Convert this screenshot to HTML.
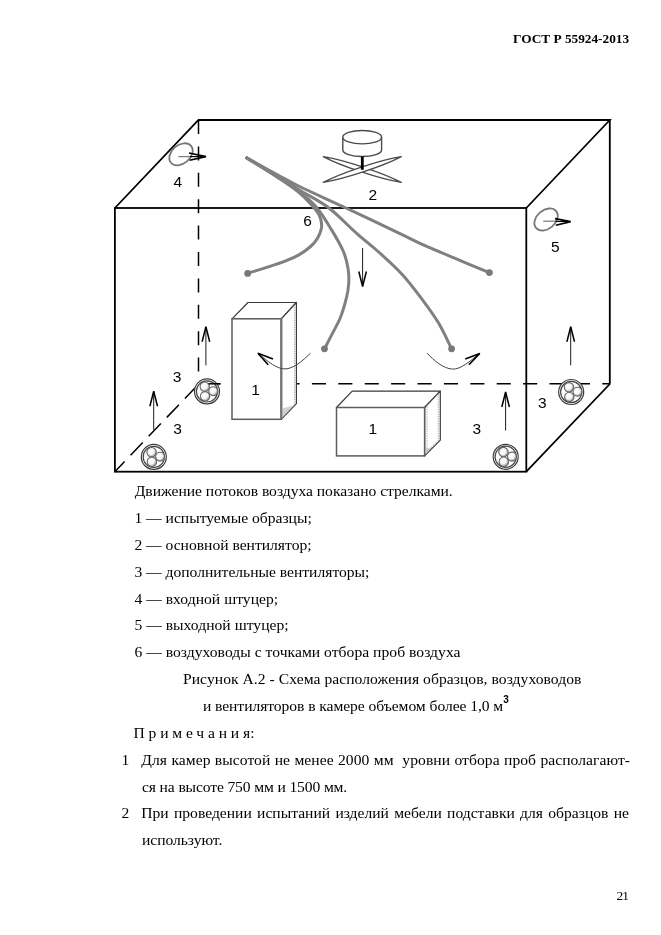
<!DOCTYPE html>
<html><head><meta charset="utf-8">
<style>
html,body{margin:0;padding:0;background:#fff;}
html{filter:grayscale(1);}
body{width:661px;height:935px;position:relative;overflow:hidden;font-family:"Liberation Serif",serif;color:#000;}
.t{position:absolute;white-space:nowrap;font-size:15.6px;line-height:20px;height:20px;}
.j{position:absolute;font-size:15.6px;line-height:20px;height:20px;text-align:justify;text-align-last:justify;white-space:nowrap;}
svg{position:absolute;left:0;top:0;}
.s{font-family:"Liberation Sans",sans-serif;font-size:15.5px;fill:#000;}
</style></head><body>
<div class="t" style="left:513px;top:29px;font-size:13.3px;font-weight:bold;">ГОСТ Р 55924-2013</div>

<svg width="661" height="935" viewBox="0 0 661 935">
<defs>
<radialGradient id="ball" cx="0.4" cy="0.4" r="0.6"><stop offset="0" stop-color="#fff"/><stop offset="0.6" stop-color="#f4f4f4"/><stop offset="1" stop-color="#999"/></radialGradient>
<g id="fan3">
 <circle r="12.5" fill="#fff" stroke="#3c3c3c" stroke-width="1.2"/>
 <circle r="10.6" fill="none" stroke="#444" stroke-width="1.2"/>
 <circle cx="-2.2" cy="-4.7" r="4.7" fill="url(#ball)" stroke="#666" stroke-width="1.1"/>
 <circle cx="6.3" cy="-0.2" r="4.5" fill="url(#ball)" stroke="#666" stroke-width="1.1"/>
 <circle cx="-1.9" cy="4.9" r="4.7" fill="url(#ball)" stroke="#666" stroke-width="1.1"/>
</g>
<g id="uparrow">
 <line x1="0" y1="0" x2="0" y2="38.5" stroke="#000" stroke-width="0.9"/>
 <polyline points="-3.8,15 0,0 3.8,15" fill="none" stroke="#000" stroke-width="1.5"/>
</g>
</defs>

<!-- dashed hidden edges -->
<g fill="none" stroke="#000" stroke-width="1.5">
 <line x1="198.5" y1="120" x2="198.5" y2="384" stroke-dasharray="14 12.4"/>
 <line x1="198" y1="383.8" x2="610" y2="383.8" stroke-dasharray="14.1 12.3" stroke-dashoffset="18.1"/>
 <line x1="114.8" y1="471.7" x2="198" y2="384.8" stroke-dasharray="17.6 8.6" stroke-dashoffset="3.4"/>
</g>

<!-- outer box -->
<g fill="none" stroke="#000" stroke-width="1.8" stroke-linejoin="miter">
 <polyline points="114.9,208 198.5,120 609.8,120 526.3,208"/>
 <rect x="114.9" y="208" width="411.4" height="263.7"/>
 <polyline points="609.8,120 609.8,384 526.3,471.7"/>
</g>

<!-- ducts -->
<g fill="none" stroke="#808080" stroke-width="3" stroke-linecap="butt" stroke-linejoin="round">
 <path d="M245.6,157.3 C250.9,160.6 268.6,171.5 277.4,177.3 C286.2,183.1 293.1,187.7 298.5,192.0 C303.9,196.3 306.6,199.4 310.0,203.2 C313.4,207.0 317.2,211.0 319.1,214.9 C321.0,218.8 321.9,222.7 321.6,226.6 C321.3,230.5 319.4,234.8 317.5,238.2 C315.6,241.6 313.2,244.2 310.0,247.0 C306.8,249.8 302.3,252.9 298.5,255.1 C294.7,257.3 290.5,258.9 287.0,260.3 C283.5,261.8 281.6,262.4 277.4,263.8 C273.2,265.2 266.9,267.3 262.0,268.9 C257.1,270.5 250.1,272.6 247.7,273.4"/>
 <path d="M245.6,157.3 C250.9,160.5 268.6,171.1 277.4,176.7 C286.2,182.3 292.0,185.9 298.5,191.0 C305.0,196.1 311.1,201.0 316.6,207.5 C322.1,214.0 327.1,222.5 331.6,229.9 C336.1,237.3 340.8,245.4 343.6,252.0 C346.4,258.6 347.4,264.1 348.2,269.4 C349.0,274.7 349.0,279.1 348.7,283.9 C348.4,288.7 347.7,292.8 346.3,298.4 C344.9,304.0 342.7,311.8 340.3,317.8 C337.9,323.9 334.4,329.5 331.8,334.7 C329.2,339.9 325.7,346.4 324.5,348.8"/>
 <path d="M245.6,157.3 C250.9,160.4 268.6,170.4 277.4,175.8 C286.2,181.2 290.0,184.3 298.5,189.6 C307.0,194.9 318.6,200.2 328.3,207.5 C338.0,214.8 348.4,226.1 356.6,233.3 C364.8,240.6 369.9,244.2 377.5,251.0 C385.1,257.8 394.7,266.3 402.0,274.2 C409.3,282.1 415.3,290.3 421.4,298.4 C427.4,306.5 433.3,314.2 438.3,322.6 C443.3,331.0 449.4,344.4 451.6,348.8"/>
 <path d="M245.6,157.3 C250.9,160.2 268.6,169.9 277.4,174.7 C286.2,179.5 287.2,180.5 298.5,186.0 C309.8,191.5 328.0,199.6 344.9,207.5 C361.8,215.4 387.5,227.6 400.0,233.6 C412.5,239.6 411.0,239.2 420.0,243.3 C429.0,247.4 442.4,253.0 454.0,257.9 C465.6,262.8 483.5,270.2 489.4,272.6"/>
</g>
<g fill="#787878">
 <circle cx="247.7" cy="273.4" r="3.4"/><circle cx="324.5" cy="348.8" r="3.4"/><circle cx="451.6" cy="348.8" r="3.4"/><circle cx="489.4" cy="272.6" r="3.4"/>
</g>

<!-- main fan 2 -->
<g fill="#fff" stroke="#4a4a4a" stroke-width="1.2" stroke-linejoin="round">
 <path d="M323.2,156.6 C341.6,166.3 380.7,179.2 401.3,182.4 C382.9,172.7 343.8,159.8 323.2,156.6 Z"/>
 <path d="M323.2,182.4 C343.8,179.2 382.9,166.3 401.3,156.6 C380.7,159.8 341.6,172.7 323.2,182.4 Z"/>
 <path d="M342.8,137.2 L342.8,150 A19.4,6.5 0 0 0 381.6,150 L381.6,137.2" stroke-width="1.4"/>
 <ellipse cx="362.2" cy="137.2" rx="19.4" ry="6.7" stroke-width="1.4"/>
</g>
<line x1="362.3" y1="156.5" x2="362.3" y2="169.8" stroke="#000" stroke-width="2.8"/>

<!-- sample boxes -->
<g fill="#fff" stroke="#3a3a3a" stroke-width="1.2" stroke-linejoin="round">
 <polygon points="232,318.8 248,302.5 296.4,302.5 281.3,318.8"/>
 <polygon points="281.3,318.8 296.4,302.5 296.4,403.7 281.3,419.3"/>
 <polygon points="336.5,407.5 352.2,391.2 440.3,391.2 424.6,407.5"/>
 <polygon points="424.6,407.5 440.3,391.2 440.3,440.1 424.6,455.9"/>
</g>
<g fill="#fff" stroke="#5c5c5c" stroke-width="1.5" stroke-linejoin="miter">
 <rect x="232" y="318.8" width="49.3" height="100.5"/>
 <rect x="336.5" y="407.5" width="88.1" height="48.4"/>
</g>

<!-- box face details -->
<line x1="281.3" y1="318.8" x2="281.3" y2="419.3" stroke="#777" stroke-width="2.3"/>
<g fill="none" stroke="#8a8a8a" stroke-width="0.8" stroke-dasharray="1.2 1.2">
 <polygon points="427,404.6 438.2,393.4 438.2,440.4 427,451.6"/>
 <polyline points="283.2,417 294.6,405 294.6,306"/>
</g>
<polygon points="282.3,418.2 282.3,408.5 293.5,405.5" fill="#aaa" opacity="0.55"/>
<polygon points="425.6,454.8 425.6,448 432,447.5" fill="#aaa" opacity="0.45"/>

<!-- curved arrows -->
<g fill="none" stroke="#444" stroke-width="1">
 <path d="M310.5,353.2 C302,361.5 294,368 286,368.9 C277,369.5 268,361.5 257.9,353.2"/>
 <path d="M427.1,353.2 C434,360.5 443,368.5 452.5,369.1 C461,369.5 470,361 479.8,353.4"/>
</g>
<g fill="none" stroke="#000" stroke-width="1.6" stroke-linejoin="miter">
 <polyline points="273,359 257.9,353.2 268.2,364.7"/>
 <polyline points="465.2,359 479.8,353.4 468.9,364.7"/>
</g>

<!-- straight arrows -->
<use href="#uparrow" x="153.7" y="391.3"/>
<use href="#uparrow" x="205.9" y="326.8"/>
<use href="#uparrow" x="505.6" y="392"/>
<use href="#uparrow" x="570.7" y="326.8"/>
<g transform="translate(362.6,286.5) scale(1,-1)"><use href="#uparrow"/></g>

<!-- small fans -->
<use href="#fan3" x="153.8" y="456.9"/>
<use href="#fan3" x="207" y="391.4"/>
<use href="#fan3" x="505.7" y="456.8"/>
<use href="#fan3" x="571.2" y="392"/>

<line x1="208.6" y1="383.8" x2="220.4" y2="383.8" stroke="#000" stroke-width="1.5"/>

<!-- ports -->
<g fill="none">
 <ellipse cx="181" cy="154.3" rx="13.1" ry="9.3" transform="rotate(-40 181 154.3)" stroke="#777" stroke-width="1.8"/>
 <line x1="178.4" y1="156.6" x2="191" y2="156.6" stroke="#808080" stroke-width="1.3"/>
 <line x1="190" y1="156.6" x2="204" y2="156.6" stroke="#000" stroke-width="1.2"/>
 <polyline points="189,153 206,156.6 189.5,160.2" stroke="#000" stroke-width="1.6"/>
 <ellipse cx="546.1" cy="219.5" rx="13.1" ry="9.3" transform="rotate(-40 546.1 219.5)" stroke="#777" stroke-width="1.8"/>
 <line x1="543.3" y1="221.2" x2="556.5" y2="221.2" stroke="#808080" stroke-width="1.3"/>
 <line x1="555.5" y1="221.3" x2="569" y2="221.5" stroke="#000" stroke-width="1.2"/>
 <polyline points="555,218.6 570.7,221.6 555.8,225.2" stroke="#000" stroke-width="1.6"/>
</g>

<!-- labels -->
<g class="s" text-anchor="middle">
 <text x="177.7" y="186.8">4</text>
 <text x="555.3" y="251.7">5</text>
 <text x="372.8" y="199.6">2</text>
 <text x="307.5" y="226">6</text>
 <text x="177" y="382.3">3</text>
 <text x="177.6" y="433.7">3</text>
 <text x="542.4" y="408.2">3</text>
 <text x="476.9" y="433.7">3</text>
 <text x="255.6" y="394.7">1</text>
 <text x="372.8" y="434">1</text>
</g>
</svg>


<div class="t" id="L0" style="left:134.70px;top:481.14px;letter-spacing:-0.020px;word-spacing:0px;">Движение потоков воздуха показано стрелками.</div>
<div class="t" id="L1" style="left:134.40px;top:508.00px;letter-spacing:-0.000px;word-spacing:0px;">1 — испытуемые образцы;</div>
<div class="t" id="L2" style="left:134.40px;top:534.86px;letter-spacing:-0.010px;word-spacing:0px;">2 — основной вентилятор;</div>
<div class="t" id="L3" style="left:134.40px;top:561.72px;letter-spacing:-0.010px;word-spacing:0px;">3 — дополнительные вентиляторы;</div>
<div class="t" id="L4" style="left:134.40px;top:588.58px;letter-spacing:0.030px;word-spacing:0px;">4 — входной штуцер;</div>
<div class="t" id="L5" style="left:134.40px;top:615.44px;letter-spacing:0.030px;word-spacing:0px;">5 — выходной штуцер;</div>
<div class="t" id="L6" style="left:134.40px;top:642.30px;letter-spacing:0.035px;word-spacing:0px;">6 — воздуховоды с точками отбора проб воздуха</div>
<div class="t" id="L7" style="left:183.00px;top:669.16px;letter-spacing:0.050px;word-spacing:0px;">Рисунок А.2 - Схема расположения образцов, воздуховодов</div>
<div class="t" id="L8" style="left:202.90px;top:696.02px;letter-spacing:-0.060px;word-spacing:0px;">и вентиляторов в камере объемом более 1,0 м<span style="font-family:'Liberation Sans',sans-serif;font-weight:bold;font-size:10px;letter-spacing:-0.3px;position:relative;top:-7.8px;margin-left:0px;">3</span></div>
<div class="t" id="L11" style="left:142.00px;top:776.60px;letter-spacing:-0.130px;word-spacing:0px;">ся на высоте 750 мм и 1500 мм.</div>
<div class="t" id="L13" style="left:142.00px;top:830.32px;letter-spacing:-0.040px;word-spacing:0px;">используют.</div>
<div class="t" id="L9" style="left:133.50px;top:722.88px;"><span style="letter-spacing:3.80px">Примечани</span>я:</div>
<div class="t" style="left:121.6px;top:749.74px;">1</div>
<div class="t" id="L10" style="left:141.3px;top:749.74px;letter-spacing:0.05px;word-spacing:0.42px;">Для камер высотой не менее 2000 мм &nbsp;уровни отбора проб располагают-</div>
<div class="t" style="left:121.6px;top:803.46px;">2</div>
<div class="t" id="L12" style="left:141.3px;top:803.46px;letter-spacing:0px;word-spacing:1.38px;">При проведении испытаний изделий мебели подставки для образцов не</div>
<div class="t" style="left:616.4px;top:886px;font-size:13.4px;letter-spacing:-0.8px;">21</div>
</body></html>
